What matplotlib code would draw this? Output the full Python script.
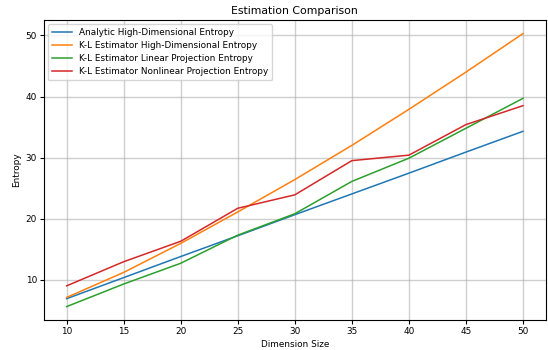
import matplotlib
matplotlib.use("Agg")
import matplotlib.pyplot as plt

dims = [10, 15, 20, 25, 30, 35, 40, 45, 50]
analytic = [6.9, 10.35, 13.8, 17.2, 20.65, 24.05, 27.45, 30.9, 34.3]
kl_high = [7.1, 11.2, 15.95, 21.1, 26.4, 32.0, 37.9, 44.0, 50.3]
kl_linear = [5.6, 9.3, 12.7, 17.3, 20.8, 26.1, 29.9, 34.8, 39.7]
kl_nonlinear = [9.0, 12.95, 16.3, 21.7, 23.9, 29.5, 30.4, 35.4, 38.5]

labels = ["Analytic High-Dimensional Entropy",
          "K-L Estimator High-Dimensional Entropy",
          "K-L Estimator Linear Projection Entropy",
          "K-L Estimator Nonlinear Projection Entropy"]

fig = plt.figure(figsize=(5.48, 3.5), dpi=100)
ax = fig.add_axes([0.080, 0.085, 0.916, 0.858])
for series, lab in zip([analytic, kl_high, kl_linear, kl_nonlinear], labels):
    ax.plot(dims, series, label=lab, linewidth=1.1)

ax.set_title("Estimation Comparison", fontsize=7.8, pad=4)
ax.set_xlabel("Dimension Size", fontsize=6.4, labelpad=3)
ax.set_ylabel("Entropy", fontsize=6.4, labelpad=3)
ax.tick_params(labelsize=6.4, length=3, pad=2)
ax.set_xticks(dims)
ax.set_yticks([10, 20, 30, 40, 50])
ax.grid(True, color="#b0b0b0", alpha=0.6, linewidth=1.0)
ax.legend(loc="upper left", fontsize=6.4, handlelength=2.2, borderpad=0.45, labelspacing=0.45)

fig.savefig("out.png", dpi=100)
